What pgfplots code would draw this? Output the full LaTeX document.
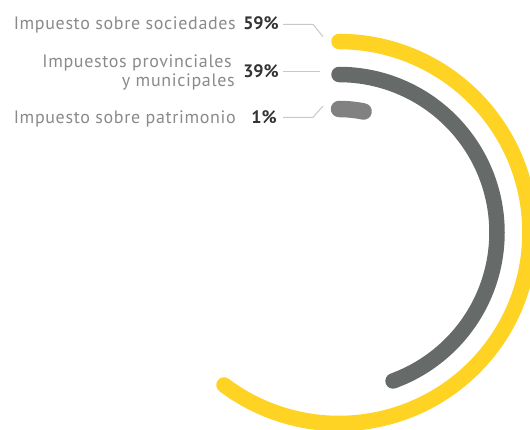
\documentclass[border=0pt]{standalone}
\usepackage{pgfplots}
\pgfplotsset{compat=1.18}
\usepgfplotslibrary{polar}
\usepackage{fontspec}
\setmainfont{PT Sans}
\newfontfamily\labelfont[LetterSpace=3.6]{PT Sans}
\definecolor{cyellow}{HTML}{FED324}
\definecolor{cdark}{HTML}{666A69}
\definecolor{clight}{HTML}{808180}
\definecolor{ctext}{HTML}{8A8A8A}
\definecolor{cpct}{HTML}{333333}
\definecolor{cleader}{HTML}{C8C8C8}
\begin{document}
\begin{tikzpicture}
\path[use as bounding box] (0,0) rectangle (530pt,430pt);
\clip (0,0) rectangle (530pt,430pt);
% arcs: clockwise from 12 o'clock; polar angle = 90 - sweep
\begin{polaraxis}[hide axis, width=420pt, height=420pt, scale only axis,
  ymin=0, ymax=210, xmin=0, xmax=360, clip=false,
  at={(339pt,197.5pt)}, anchor=origin]
\addplot[cyellow, line width=15.5pt, line cap=round, domain=-127:90, samples=160, no marks] {191};
\addplot[cdark, line width=15.5pt, line cap=round, domain=-70:90, samples=120, no marks] {158};
\addplot[clight, line width=16.5pt, line cap=round, domain=78.5:90, samples=12, no marks] {123.5};
\end{polaraxis}
\begin{scope}[font=\fontsize{18}{20}\labelfont]
\node[anchor=base east, text=ctext, inner sep=0] at (236pt,400pt) {Impuesto sobre sociedades};
\node[anchor=base east, text=ctext, inner sep=0] at (232pt,362pt) {Impuestos provinciales};
\node[anchor=base east, text=ctext, inner sep=0] at (235pt,343pt) {y municipales};
\node[anchor=base east, text=ctext, inner sep=0] at (236pt,306pt) {Impuesto sobre patrimonio};
\end{scope}
\begin{scope}[font=\fontsize{18}{20}\selectfont\bfseries]
\node[anchor=base east, text=cpct, inner sep=0] at (279pt,400pt) {59\%};
\node[anchor=base east, text=cpct, inner sep=0] at (279pt,352pt) {39\%};
\node[anchor=base east, text=cpct, inner sep=0] at (277pt,306pt) {1\%};
\end{scope}
\draw[cleader, line width=1pt] (283pt,405.7pt) -- (313pt,405.7pt) -- (323pt,393.3pt);
\draw[cleader, line width=1pt] (283pt,358.3pt) -- (320pt,358.3pt);
\draw[cleader, line width=1pt] (283pt,312.7pt) -- (313pt,312.7pt) -- (323pt,324pt);
\end{tikzpicture}
\end{document}
